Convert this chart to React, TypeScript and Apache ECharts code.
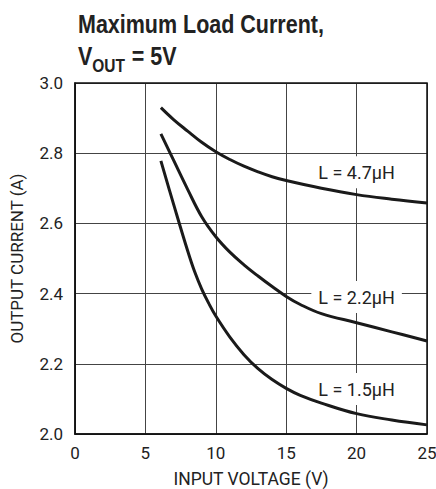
import React, { useEffect, useRef } from "react";
import * as echarts from "echarts";

const xTicks = [0, 5, 10, 15, 20, 25];
const yTicks = [2.0, 2.2, 2.4, 2.6, 2.8, 3.0];

const seriesNames = ["L = 4.7µH", "L = 2.2µH", "L = 1.5µH"];

const vin47 = [6.1, 7, 8, 9, 10, 11, 12, 13, 14, 15, 17.5, 20, 22.5, 25];
const iout47 = [2.93, 2.896, 2.863, 2.831, 2.804, 2.782, 2.763, 2.747, 2.733, 2.722, 2.7, 2.682, 2.669, 2.658];

const vin22 = [6.1, 7, 8, 9, 10, 11, 12, 13, 14, 15, 16, 17.5, 20, 22.5, 25];
const iout22 = [2.855, 2.78, 2.697, 2.619, 2.562, 2.518, 2.482, 2.45, 2.42, 2.392, 2.369, 2.343, 2.317, 2.291, 2.265];

const vin15 = [6.1, 7, 8, 8.5, 9, 9.5, 10, 11, 12, 13, 14, 15, 16, 17.5, 20, 22.5, 25];
const iout15 = [2.778, 2.655, 2.522, 2.462, 2.413, 2.372, 2.336, 2.276, 2.226, 2.186, 2.155, 2.13, 2.11, 2.088, 2.058, 2.04, 2.026];

// label anchor positions in data space (x, y)
const labelX = [20, 20, 20];
const labelY = [2.746, 2.39, 2.128];

const FONT = "Roboto, 'Liberation Sans', sans-serif";
const TFONT = "'Liberation Sans', Arial, sans-serif";

export default function App() {
  const ref = useRef<HTMLDivElement>(null);
  useEffect(() => {
    if (!ref.current) return;
    const chart = echarts.init(ref.current, undefined, { renderer: "svg" });
    const sets = [
      [vin47, iout47],
      [vin22, iout22],
      [vin15, iout15],
    ];
    const series = sets.map(([xs, ys], i) => ({
      type: "line",
      name: seriesNames[i],
      data: xs.map((x, k) => [x, ys[k]]),
      smooth: 0.4,
      showSymbol: false,
      symbol: "none",
      lineStyle: { color: "#1a1a1a", width: 3 },
      z: 4,
      markPoint: {
        z: 2,
        symbol: "circle",
        symbolSize: 0,
        silent: true,
        data: [{ coord: [labelX[i], labelY[i]] }],
        label: {
          show: true,
          position: "inside",
          formatter: seriesNames[i],
          fontFamily: FONT,
          fontSize: 18,
          color: "#222",
          backgroundColor: "#fff",
          padding: [7, 7, 7, 7],
        },
      },
    }));
    chart.setOption({
      animation: false,
      backgroundColor: "#fff",
      grid: { left: 75, right: 9, top: 83, bottom: 55, containLabel: false, outerBoundsMode: "none" },
      xAxis: {
        type: "value",
        min: 0,
        max: 25,
        interval: 5,
        name: "INPUT VOLTAGE (V)",
        nameLocation: "middle",
        nameGap: 36,
        nameTextStyle: { fontFamily: FONT, fontSize: 17.5, color: "#222" },
        axisLine: { show: true, lineStyle: { color: "#111", width: 1.5 } },
        axisTick: { show: false },
        axisLabel: {
          fontFamily: FONT,
          fontSize: 17,
          color: "#222",
          margin: 10,
          formatter: (v: number) => (xTicks.includes(v) ? String(v) : ""),
        },
        splitLine: { show: true, lineStyle: { color: "#444", width: 1 } },
      },
      yAxis: {
        type: "value",
        min: 2.0,
        max: 3.0,
        interval: 0.2,
        name: "OUTPUT CURRENT (A)",
        nameLocation: "middle",
        nameGap: 50,
        nameTextStyle: { fontFamily: FONT, fontSize: 17, color: "#222" },
        axisLine: { show: true, lineStyle: { color: "#111", width: 1.5 } },
        axisTick: { show: false },
        axisLabel: {
          fontFamily: FONT,
          fontSize: 17,
          color: "#222",
          margin: 12,
          formatter: (v: number) => {
            const t = yTicks.find((y) => Math.abs(y - v) < 1e-6);
            return t !== undefined ? t.toFixed(1) : "";
          },
        },
        splitLine: { show: true, lineStyle: { color: "#444", width: 1 } },
      },
      graphic: [
        {
          type: "rect",
          shape: { x: 75, y: 83, width: 352, height: 351 },
          style: { fill: "none", stroke: "#111", lineWidth: 1.5 },
          silent: true,
          z: 1,
        },
        {
          type: "text",
          x: 78,
          y: 12,
          scaleX: 0.86,
          style: {
            text: "Maximum Load Current,",
            fontFamily: TFONT,
            fontSize: 25,
            fontWeight: "bold",
            fill: "#222",
          },
        },
        {
          type: "text",
          x: 78,
          y: 41,
          scaleX: 0.86,
          style: {
            text: "{v|V}{sub|OUT}{v| = 5V}",
            fontFamily: TFONT,
            fontSize: 25,
            fontWeight: "bold",
            fill: "#222",
            rich: {
              v: { fontFamily: TFONT, fontSize: 25, fontWeight: "bold", fill: "#222", lineHeight: 28, verticalAlign: "bottom" },
              sub: { fontFamily: TFONT, fontSize: 18, fontWeight: "bold", fill: "#222", lineHeight: 28, verticalAlign: "bottom", padding: [0, 1, -6, 0] },
            },
          },
        },
      ],
      series,
    });
    return () => chart.dispose();
  }, []);
  return (
    <div
      ref={ref}
      style={{ position: "absolute", left: 0, top: 0, width: 436, height: 489 }}
    />
  );
}
